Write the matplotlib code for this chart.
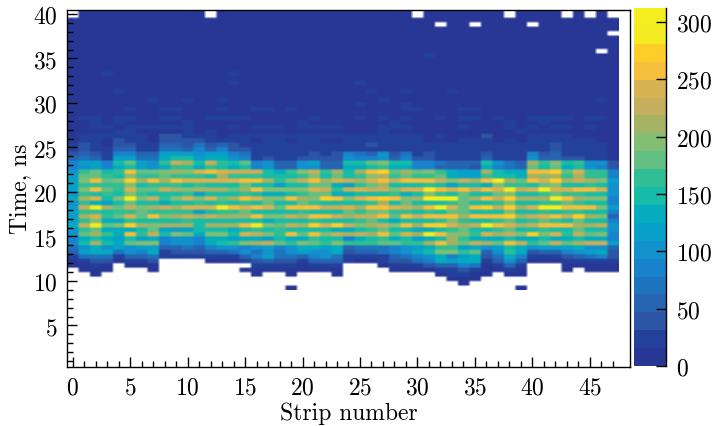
import numpy as np
import matplotlib
matplotlib.use('Agg')
import matplotlib.pyplot as plt
from matplotlib.cm import ScalarMappable
from matplotlib.colors import ListedColormap, BoundaryNorm

plt.rcParams['font.family'] = ['cmr10', 'DejaVu Serif']
plt.rcParams['axes.formatter.use_mathtext'] = True
plt.rcParams['axes.unicode_minus'] = False

n_strips = 48
n_rows = 62
background_count = 8   # dark blue upper part of the map
faint_count = 20

# counts per time bin, row index counts down from the top of the map
faint_rows = {
    9: [31], 13: [3, 14], 15: [14, 25], 17: [4, 26, 29, 33],
    19: [7, 10, 13, 27, 46], 20: [25, 29],
    21: [5, 8, 9, 13, 16, 17, 19, 29, 30, 34, 35],
    23: [1, 2, 4, 5, 8, 9, 12, 13, 14, 15, 21, 25, 27, 29, 32, 34, 35, 37, 40, 41, 42, 43, 45, 46],
    24: [2, 4, 10, 20, 28, 38, 41],
    25: [2, 3, 5, 6, 7, 8, 9, 10, 14, 16, 17, 18, 20, 21, 22, 23, 27, 28, 29, 34, 38, 40, 42, 43, 45],
    26: [4, 5, 10, 12, 27, 39],
}
# bins with no entries at all (row, strip)
empty_cells = [(0, 0), (0, 12), (0, 30), (0, 38), (0, 43), (0, 45), (0, 47),
               (2, 32), (2, 35), (2, 40), (4, 47), (8, 46)]

core_first_row = 27
core_counts = [
    [8,20,18,18,30,25,18,8,35,35,25,30,25,15,18,18, 18,18,18,18,18,20,18,18, 20,20,20,20,20,20,20,8, 18,8,8,8,35,8,8,8, 18,18,22,22,8,8,8,8],
    [8,20,20,8,35,30,20,8,40,45,35,35,20,25,20,20, 8,18,18,8,18,18,8,8, 20,20,22,20,20,18,18,8, 8,8,18,18,20,8,18,8, 20,20,20,20,18,18,8,8],
    [25,35,25,15,45,45,25,20,55,55,45,70,40,60,40,30, 20,20,20,20,20,25,20,20, 22,22,35,28,22,22,22,20, 20,18,18,18,25,22,20,18, 25,25,35,25,25,22,20,8],
    [30,40,30,20,50,50,30,25,65,65,60,85,50,80,45,35, 22,25,22,22,22,30,22,22, 25,25,30,30,22,25,22,22, 22,20,18,18,30,25,22,22, 30,28,32,28,28,25,22,8],
    [40,50,40,25,80,90,55,55,110,120,115,95,110,110,85,75, 25,30,25,25,25,40,30,35, 85,75,60,95,40,70,30,35, 30,25,25,20,45,30,25,20, 85,40,50,30,30,25,25,8],
    [60,70,55,30,110,120,65,65,140,150,145,115,135,135,100,90, 30,40,30,30,40,45,35,35, 100,90,80,100,50,80,35,40, 30,25,25,20,55,30,25,20, 100,60,60,35,35,30,30,8],
    [85,115,110,85,150,175,115,100,165,225,210,150,225,170,150,180, 85,100,55,60,100,110,60,60, 150,150,175,195,145,145,90,85, 70,55,55,50,150,100,75,60, 205,165,200,150,160,105,95,40],
    [85,105,110,85,135,150,110,95,140,170,165,130,165,150,130,145, 80,95,50,55,95,105,55,55, 135,135,155,165,125,125,85,80, 60,50,50,45,130,90,70,55, 180,150,175,135,145,100,90,40],
    [100,165,175,150,170,255,175,175,190,210,200,245,250,240,225,220, 225,155,130,165,200,225,160,215, 150,215,265,270,175,215,180,195, 165,130,115,110,210,155,140,140, 265,260,270,180,235,170,160,90],
    [113,183,173,158,153,193,158,168,173,163,168,168,153,218,168,168, 168,148,143,148,168,188,153,173, 153,168,193,218,158,178,168,168, 183,138,123,118,168,153,153,138, 208,193,203,168,203,168,163,88],
    [120,195,265,180,195,280,215,260,205,250,240,240,240,240,240,265, 255,210,170,190,225,255,215,240, 225,205,235,265,220,250,255,260, 225,190,220,205,265,290,215,175, 250,245,270,215,230,215,200,110],
    [118,168,168,158,158,198,148,158,158,158,153,158,153,153,153,183, 153,143,123,153,153,178,178,138, 118,158,183,203,143,148,148,168, 148,123,148,148,138,188,168,163, 148,183,188,153,153,163,153,98],
    [115,190,255,175,170,235,180,185,220,210,200,205,205,205,180,215, 260,195,190,200,195,245,225,165, 230,240,225,220,195,235,235,290, 265,240,255,225,250,235,295,225, 245,290,240,235,260,255,240,100],
    [108,158,153,158,148,188,168,148,143,153,158,123,148,148,148,163, 148,138,138,153,163,178,183,133, 138,143,148,153,168,133,148,193, 168,148,173,153,148,173,188,153, 153,168,178,168,168,153,148,103],
    [125,205,240,150,190,300,195,230,170,200,240,200,240,180,210,260, 245,195,190,255,215,195,270,260, 190,240,255,270,265,200,205,300, 305,300,175,215,265,225,270,205, 215,215,295,255,215,195,190,85],
    [108,163,138,123,148,183,153,153,128,143,153,168,143,158,143,163, 143,178,148,143,183,163,148,153, 148,143,158,203,148,173,143,148, 143,168,178,153,143,163,193,143, 153,158,163,178,163,143,148,88],
    [115,220,285,210,185,220,195,205,220,215,245,235,240,285,260,240, 265,235,180,260,260,265,225,230, 245,210,265,255,240,230,210,265, 300,240,175,260,270,225,270,215, 235,295,305,265,260,260,190,110],
    [113,158,158,153,163,168,178,168,168,168,168,118,148,168,168,183, 148,143,153,148,163,153,148,148, 173,168,183,193,158,158,153,163, 148,178,183,148,143,148,188,143, 153,168,153,168,163,148,148,88],
    [115,205,235,170,185,240,180,250,190,205,225,205,225,210,205,210, 260,190,195,225,215,265,265,225, 210,225,220,265,185,265,225,265, 265,265,205,260,260,265,275,215, 230,240,265,225,275,210,195,60],
    [113,158,188,133,128,168,148,143,143,148,158,148,148,143,148,148, 148,128,153,148,148,168,153,153, 148,158,183,148,138,153,143,153, 168,188,168,143,143,158,183,148, 168,178,163,153,178,143,148,83],
    [130,230,290,185,195,280,215,195,205,215,205,150,205,205,215,255, 285,190,175,225,210,280,245,270, 230,200,215,230,200,255,215,270, 280,240,215,220,295,265,235,210, 225,250,265,250,210,205,220,95],
    [98,158,183,138,128,138,153,183,113,123,118,143,143,143,138,153, 158,148,168,153,148,153,148,133, 128,148,168,173,148,148,128,133, 143,158,183,148,148,158,178,143, 153,158,148,143,183,143,153,98],
    [100,180,215,160,130,255,170,220,150,195,185,140,195,190,150,240, 225,190,170,255,180,250,195,220, 205,230,210,250,180,235,210,305, 260,190,200,170,240,215,230,195, 270,190,240,170,225,175,190,85],
    [88,130,145,130,120,145,115,140,85,95,100,90,130,130,120,125, 130,115,145,135,140,160,150,150, 90,130,150,160,135,145,115,135, 155,205,165,135,125,140,150,140, 135,150,140,135,155,130,130,80],
    [85,150,205,150,130,175,190,190,80,105,105,85,135,145,170,195, 215,230,175,170,190,175,165,195, 160,170,165,180,180,170,160,210, 255,215,180,225,215,185,265,225, 170,180,225,175,215,225,220,115],
    [70,105,125,95,115,95,110,120,50,60,70,60,85,95,100,90, 100,115,85,100,130,135,120,130, 60,65,70,75,85,100,120,125, 160,170,115,135,100,120,150,130, 100,110,120,115,125,100,95,60],
    [50,115,130,130,65,100,90,125,30,40,45,40,50,60,70,95, 70,100,70,100,120,100,95,125, 45,55,60,70,90,105,135,155, 190,195,160,175,60,105,165,140, 35,50,55,80,95,115,135,45],
    [30,70,75,70,30,55,60,70,25,20,25,20,25,30,30,50, 90,110,70,70,50,80,95,70, 25,25,30,30,55,70,85,105, 135,85,110,130,45,75,130,85, 22,22,30,40,60,75,80,35],
    [15,30,35,35,15,20,25,35,0,0,0,0,15,15,15,25, 40,50,40,40,30,50,50,50, 20,15,15,25,40,45,65,85, 130,120,135,130,25,60,105,60, 15,15,15,25,25,30,30,25],
    [8,15,20,15,0,10,10,15,0,0,0,0,0,0,0,0, 25,20,20,20,15,25,25,30, 0,0,0,10,20,20,30,35, 60,60,80,75,15,25,50,30, 0,0,0,15,15,15,15,15],
    [0,8,10,8,0,0,0,8,0,0,0,0,0,0,0,8, 15,8,10,15,8,8,8,15, 0,0,0,0,8,8,10,15, 30,25,35,30,8,10,25,15, 0,0,0,8,0,8,8,8],
]
# lowest tail of the map, strip -> count
tail_rows = {
    58: {2: 8, 16: 8, 19: 8, 23: 8, 32: 15, 33: 18, 34: 20, 35: 15, 36: 8, 38: 8, 39: 8},
    59: {33: 8, 34: 10, 35: 8},
    60: {34: 8},
    61: {19: 8, 39: 8},
}

# colour bands, bottom to top
band_colors = [(40, 55, 150), (35, 65, 155), (45, 85, 165), (38, 100, 178), (30, 115, 190),
               (25, 130, 205), (18, 145, 205), (8, 160, 200), (5, 172, 190), (22, 188, 168),
               (50, 190, 148), (100, 192, 130), (130, 190, 115), (165, 178, 100), (198, 175, 92),
               (215, 178, 80), (245, 190, 60), (255, 205, 40), (245, 235, 35), (245, 238, 30)]
color_max = 312

# put the map together
counts = np.zeros((n_rows, n_strips))
counts[:core_first_row] = background_count
for row, strips in faint_rows.items():
    counts[row, strips] = faint_count
counts[core_first_row:core_first_row + len(core_counts)] = np.array(core_counts)
for row, cells in tail_rows.items():
    for strip, value in cells.items():
        counts[row, strip] = value
for row, strip in empty_cells:
    counts[row, strip] = 0

# the original is a resampled bitmap, so cells are split up and smoothed a little at the edges
fine = np.repeat(np.repeat(counts, 2, axis=0), 4, axis=1)
fine = np.vstack([fine[:1], fine])
fine = np.ma.masked_equal(fine, 0)

cmap = ListedColormap(np.array(band_colors) / 255)
cmap.set_bad('white')
levels = np.linspace(0, color_max, len(band_colors) + 1)
norm = BoundaryNorm(levels, cmap.N)

W, H = 714, 427
fig = plt.figure(figsize=(W / 100, H / 100), dpi=100)
ax = fig.add_axes([67 / W, 1 - 367.7 / H, (630 - 67) / W, (367.7 - 10.7) / H])
ax.imshow(fine, cmap=cmap, norm=norm, aspect='auto', origin='upper',
          extent=[-0.5, 47.5, 9.025, 40.275],
          interpolation='bilinear', interpolation_stage='rgba')
ax.set_xlim(-0.5, 48.5)
ax.set_ylim(0.37, 40.48)

ax.set_xticks(np.arange(0, 46, 5))
ax.set_xticks(np.arange(0, 48, 1), minor=True)
ax.set_yticks(np.arange(5, 41, 5))
ax.set_yticks(np.arange(1, 41, 1), minor=True)
ax.tick_params(which='major', direction='in', length=7.5, width=1.0, labelsize=17, pad=7)
ax.tick_params(which='minor', direction='in', length=4.3, width=1.0)
ax.set_xlabel('Strip number', fontsize=17, labelpad=2)
ax.set_ylabel('Time, ns', fontsize=17, labelpad=1)
for spine in ax.spines.values():
    spine.set_linewidth(1.0)

cax = fig.add_axes([633.5 / W, 1 - 367 / H, 32.5 / W, 358 / H])
cb = fig.colorbar(ScalarMappable(norm=norm, cmap=cmap), cax=cax, spacing='proportional',
                  ticks=np.arange(0, 301, 50))
cb.outline.set_visible(False)
cax.spines['right'].set_visible(True)
cax.spines['right'].set_linewidth(1.0)
cax.tick_params(which='major', direction='in', length=7.5, width=1.0, labelsize=17, pad=7, right=True)
cax.minorticks_off()

fig.savefig('out.png', dpi=100)
